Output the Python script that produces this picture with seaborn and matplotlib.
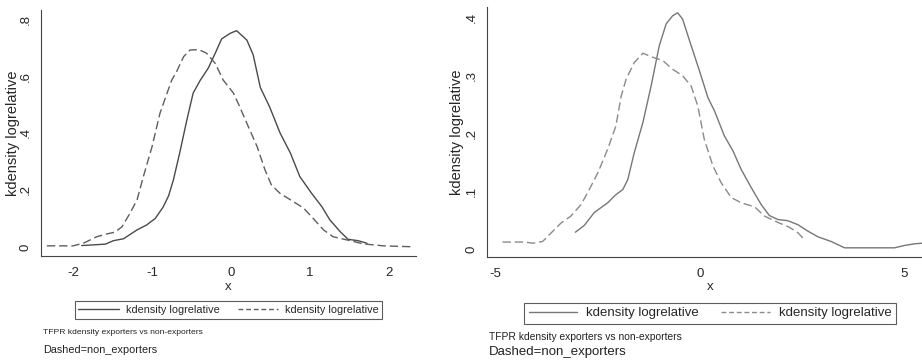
import numpy as np
import pandas as pd
import matplotlib
matplotlib.use("Agg")
import matplotlib.pyplot as plt
from matplotlib.lines import Line2D
import seaborn as sns

# left panel: exporters (solid) and non-exporters (dashed)
left_exp_x = [-1.89, -1.59, -1.49, -1.36, -1.19, -1.07, -0.96, -0.86, -0.79, -0.73, -0.65, -0.56,
              -0.48, -0.39, -0.29, -0.20, -0.12, -0.01, 0.07, 0.20, 0.28, 0.37, 0.49, 0.62, 0.75,
              0.87, 1.02, 1.15, 1.25, 1.38, 1.48, 1.61, 1.72]
left_exp_y = [0.005, 0.010, 0.022, 0.029, 0.060, 0.077, 0.100, 0.140, 0.180, 0.235, 0.330, 0.445,
              0.540, 0.585, 0.627, 0.680, 0.730, 0.750, 0.759, 0.726, 0.674, 0.560, 0.490, 0.400, 0.330,
              0.247, 0.188, 0.141, 0.095, 0.054, 0.027, 0.022, 0.013]
left_non_x = [-2.33, -2.00, -1.87, -1.70, -1.57, -1.47, -1.38, -1.28, -1.19, -1.11, -1.00, -0.90,
              -0.81, -0.75, -0.69, -0.60, -0.52, -0.41, -0.31, -0.20, -0.10, 0.03, 0.09, 0.20, 0.33,
              0.43, 0.51, 0.62, 0.79, 0.92, 1.04, 1.17, 1.29, 1.51, 1.67, 1.93, 2.27]
left_non_y = [0.004, 0.004, 0.013, 0.036, 0.046, 0.052, 0.071, 0.118, 0.165, 0.247, 0.352, 0.469,
              0.540, 0.586, 0.615, 0.668, 0.691, 0.693, 0.680, 0.644, 0.586, 0.540, 0.504, 0.434, 0.352,
              0.270, 0.218, 0.188, 0.159, 0.136, 0.100, 0.060, 0.036, 0.022, 0.011, 0.004, 0.001]

# right panel
right_exp_x = [-3.04, -2.82, -2.58, -2.25, -2.05, -1.88, -1.76, -1.60, -1.39, -1.19, -0.99, -0.82,
               -0.66, -0.54, -0.42, -0.21, -0.01, 0.20, 0.36, 0.60, 0.81, 1.01, 1.26, 1.50, 1.70,
               1.91, 2.15, 2.40, 2.64, 2.89, 3.21, 3.54, 4.76, 5.00, 5.25, 5.45, 5.70]
right_exp_y = [0.029, 0.041, 0.063, 0.080, 0.094, 0.103, 0.120, 0.167, 0.219, 0.282, 0.352, 0.390,
               0.404, 0.409, 0.398, 0.352, 0.309, 0.262, 0.239, 0.196, 0.170, 0.138, 0.106, 0.077, 0.058,
               0.051, 0.049, 0.042, 0.031, 0.021, 0.013, 0.002, 0.002, 0.006, 0.009, 0.010, 0.011]
right_non_x = [-4.82, -4.29, -4.08, -3.84, -3.63, -3.39, -3.15, -2.90, -2.70, -2.49, -2.25, -2.05,
               -1.92, -1.80, -1.60, -1.39, -1.15, -0.90, -0.66, -0.42, -0.21, -0.05, 0.11, 0.32, 0.52,
               0.77, 1.01, 1.34, 1.58, 1.91, 2.18, 2.40, 2.56]
right_non_y = [0.012, 0.012, 0.010, 0.013, 0.028, 0.045, 0.057, 0.077, 0.103, 0.132, 0.173, 0.213,
               0.265, 0.294, 0.323, 0.339, 0.332, 0.326, 0.311, 0.300, 0.282, 0.248, 0.190, 0.144, 0.115,
               0.089, 0.080, 0.073, 0.057, 0.046, 0.038, 0.028, 0.016]

left_xticks = [-2, -1, 0, 1, 2]
left_yticks = [0, 0.2, 0.4, 0.6, 0.8]
left_ylabels = ["0", ".2", ".4", ".6", ".8"]
right_xticks = [-5, 0, 5]
right_yticks = [0, 0.1, 0.2, 0.3, 0.4]
right_ylabels = ["0", ".1", ".2", ".3", ".4"]

legend_label = "kdensity logrelative"
note1 = "TFPR kdensity exporters vs non-exporters"
note2 = "Dashed=non_exporters"

sns.set_style("white")
plt.rcParams["font.family"] = ["Liberation Sans", "DejaVu Sans"]

fig = plt.figure(figsize=(9.22, 3.6), dpi=100)
W, H = 922.0, 360.0


def make_ax(l, r, t, b):
    return fig.add_axes([l / W, 1 - b / H, (r - l) / W, (b - t) / H])


axL = make_ax(41, 416, 10, 256)
axR = make_ax(487, 933, 7, 257)

panels = [
    (axL, left_exp_x, left_exp_y, left_non_x, left_non_y, "#4a4a4a", "#5e5e5e",
     (-2.405, 2.34), (-0.0316, 0.8316), left_xticks, left_yticks, left_ylabels, 7.8, 6.1, 7.8, -0.2195, -0.056),
    (axR, right_exp_x, right_exp_y, right_non_x, right_non_y, "#777777", "#8a8a8a",
     (-5.2, 5.70), (-0.0139, 0.419), right_xticks, right_yticks, right_ylabels, 9.5, 7.4, 9.5, -0.225, -0.052),
]

for (ax, ex, ey, nx, ny, c1, c2, xl, yl, xt, yt, ytl, legfs, n1fs, n2fs, legy, labx) in panels:
    d1 = pd.DataFrame({"x": ex, "y": ey})
    d2 = pd.DataFrame({"x": nx, "y": ny})
    sns.lineplot(data=d1, x="x", y="y", ax=ax, color=c1, lw=1.0, sort=False)
    sns.lineplot(data=d2, x="x", y="y", ax=ax, color=c2, lw=1.0, sort=False, dashes=False)
    ax.lines[-1].set_dashes((6, 2.8))
    ax.set_xlim(*xl)
    ax.set_ylim(*yl)
    ax.set_xticks(xt)
    ax.set_xticklabels([str(v) for v in xt], fontsize=9.5)
    ax.set_yticks(yt)
    ax.set_yticklabels(ytl, fontsize=9.5, rotation=90, va="center")
    ax.tick_params(axis="both", direction="out", length=4, width=0.8, color="#444444", pad=3)
    ax.tick_params(axis="x", pad=4)
    for s in ["top", "right"]:
        ax.spines[s].set_visible(False)
    for s in ["left", "bottom"]:
        ax.spines[s].set_color("#444444")
        ax.spines[s].set_linewidth(0.8)
    ax.set_xlabel("x", fontsize=9.5, labelpad=1)
    ax.set_ylabel("kdensity logrelative", fontsize=10.5)
    ax.yaxis.set_label_coords(labx, 0.5)
    handles = [Line2D([], [], color=c1, lw=1.0),
               Line2D([], [], color=c2, lw=1.0, dashes=(3.5, 2))]
    leg = ax.legend(handles, [legend_label, legend_label], loc="center", bbox_to_anchor=(0.5, legy),
                    ncol=2, fontsize=legfs, frameon=True, fancybox=False, edgecolor="#333333",
                    handlelength=3.7, handletextpad=0.65, columnspacing=1.7, borderpad=0.35,
                    borderaxespad=0)
    leg.get_frame().set_linewidth(0.8)

fig.text(43 / W, 1 - 333 / H, note1, fontsize=6.1, va="center", ha="left", color="#222222")
fig.text(43 / W, 1 - 350 / H, note2, fontsize=7.8, va="center", ha="left", color="#222222")
fig.text(489 / W, 1 - 337 / H, note1, fontsize=7.4, va="center", ha="left", color="#222222")
fig.text(489 / W, 1 - 352 / H, note2, fontsize=9.5, va="center", ha="left", color="#222222")

fig.savefig("out.png", dpi=100)
